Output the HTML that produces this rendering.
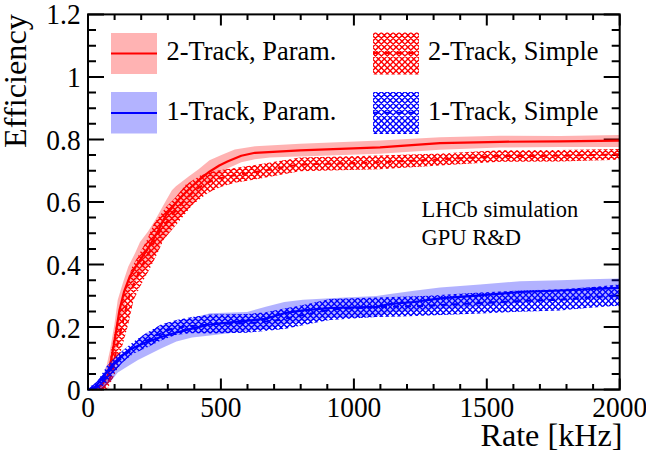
<!DOCTYPE html>
<html><head><meta charset="utf-8"><style>
html,body{margin:0;padding:0;background:#fff;width:646px;height:452px;overflow:hidden}
svg{display:block}
text{font-family:"Liberation Serif",serif;fill:#000}
</style></head><body>
<svg width="646" height="452" viewBox="0 0 646 452">
<path d="M88.0 389.6h16M619.7 389.6h-16M88.0 374.0h8M619.7 374.0h-8M88.0 358.3h8M619.7 358.3h-8M88.0 342.7h8M619.7 342.7h-8M88.0 327.1h16M619.7 327.1h-16M88.0 311.4h8M619.7 311.4h-8M88.0 295.8h8M619.7 295.8h-8M88.0 280.2h8M619.7 280.2h-8M88.0 264.5h16M619.7 264.5h-16M88.0 248.9h8M619.7 248.9h-8M88.0 233.3h8M619.7 233.3h-8M88.0 217.6h8M619.7 217.6h-8M88.0 202.0h16M619.7 202.0h-16M88.0 186.4h8M619.7 186.4h-8M88.0 170.7h8M619.7 170.7h-8M88.0 155.1h8M619.7 155.1h-8M88.0 139.5h16M619.7 139.5h-16M88.0 123.8h8M619.7 123.8h-8M88.0 108.2h8M619.7 108.2h-8M88.0 92.6h8M619.7 92.6h-8M88.0 76.9h16M619.7 76.9h-16M88.0 61.3h8M619.7 61.3h-8M88.0 45.7h8M619.7 45.7h-8M88.0 30.0h8M619.7 30.0h-8M88.0 14.4h16M619.7 14.4h-16M88.0 389.6v-11M88.0 14.4v11M114.6 389.6v-5.5M114.6 14.4v5.5M141.2 389.6v-5.5M141.2 14.4v5.5M167.8 389.6v-5.5M167.8 14.4v5.5M194.3 389.6v-5.5M194.3 14.4v5.5M220.9 389.6v-11M220.9 14.4v11M247.5 389.6v-5.5M247.5 14.4v5.5M274.1 389.6v-5.5M274.1 14.4v5.5M300.7 389.6v-5.5M300.7 14.4v5.5M327.3 389.6v-5.5M327.3 14.4v5.5M353.9 389.6v-11M353.9 14.4v11M380.4 389.6v-5.5M380.4 14.4v5.5M407.0 389.6v-5.5M407.0 14.4v5.5M433.6 389.6v-5.5M433.6 14.4v5.5M460.2 389.6v-5.5M460.2 14.4v5.5M486.8 389.6v-11M486.8 14.4v11M513.4 389.6v-5.5M513.4 14.4v5.5M539.9 389.6v-5.5M539.9 14.4v5.5M566.5 389.6v-5.5M566.5 14.4v5.5M593.1 389.6v-5.5M593.1 14.4v5.5M619.7 389.6v-11M619.7 14.4v11" stroke="#000" stroke-width="2" fill="none"/>
<defs>
<clipPath id="crs"><polygon points="95.0,389.6 104.0,386.0 108.0,375.0 111.3,350.0 116.6,323.2 122.3,300.0 127.0,282.5 132.3,266.6 139.0,254.6 146.9,240.0 154.0,223.5 166.5,206.6 175.0,198.0 185.6,184.8 201.5,174.8 214.8,170.9 228.0,168.9 241.3,166.9 255.0,164.9 300.0,157.6 380.0,155.5 440.0,153.4 500.0,150.3 560.0,150.0 619.0,149.0 619.0,159.7 560.0,161.6 500.0,161.7 440.0,165.5 380.0,169.2 300.0,171.3 255.0,179.5 234.7,182.8 221.4,186.8 208.2,192.7 192.2,205.0 184.0,215.5 168.4,234.0 163.5,240.0 157.5,253.3 149.5,269.2 141.6,283.8 133.6,300.0 128.5,323.2 121.2,350.0 117.1,368.9 112.2,379.5 108.1,387.7 106.0,389.6"/></clipPath>
<clipPath id="cbs"><polygon points="88.0,389.6 87.6,387.0 92.4,385.3 97.1,381.3 101.9,374.1 106.7,366.2 113.1,359.8 122.6,350.5 133.8,341.5 145.5,333.5 161.0,324.5 176.4,320.0 192.0,317.0 210.0,314.5 247.0,314.0 265.7,312.3 284.3,308.6 303.0,304.9 330.0,299.0 376.4,297.4 400.0,296.7 422.9,296.0 480.0,292.5 520.0,290.5 560.0,289.2 590.0,287.2 619.0,284.5 619.0,305.8 590.0,307.7 560.0,310.4 520.0,311.7 480.0,313.5 422.9,315.8 400.0,316.5 376.4,317.0 330.0,320.0 321.5,321.6 303.0,325.3 284.3,329.0 265.7,330.9 247.0,332.7 210.0,333.6 192.0,333.3 176.4,334.8 161.0,340.5 146.0,348.0 133.0,354.0 122.0,363.0 113.0,374.0 106.0,383.0 99.0,389.6"/></clipPath>
<clipPath id="clr"><rect x="373" y="32.5" width="46" height="42"/></clipPath>
<clipPath id="clb"><rect x="373" y="92" width="46" height="42"/></clipPath>
<path id="hl" d="M-313.7 10.0L76.3 400.0M-307.8 10.0L82.2 400.0M-301.9 10.0L88.1 400.0M-296.0 10.0L94.0 400.0M-290.1 10.0L99.9 400.0M-284.2 10.0L105.8 400.0M-278.3 10.0L111.7 400.0M-272.4 10.0L117.6 400.0M-266.5 10.0L123.5 400.0M-260.6 10.0L129.4 400.0M-254.7 10.0L135.3 400.0M-248.8 10.0L141.2 400.0M-242.9 10.0L147.1 400.0M-237.0 10.0L153.0 400.0M-231.1 10.0L158.9 400.0M-225.2 10.0L164.8 400.0M-219.3 10.0L170.7 400.0M-213.4 10.0L176.6 400.0M-207.5 10.0L182.5 400.0M-201.6 10.0L188.4 400.0M-195.7 10.0L194.3 400.0M-189.8 10.0L200.2 400.0M-183.9 10.0L206.1 400.0M-178.0 10.0L212.0 400.0M-172.1 10.0L217.9 400.0M-166.2 10.0L223.8 400.0M-160.3 10.0L229.7 400.0M-154.4 10.0L235.6 400.0M-148.5 10.0L241.5 400.0M-142.6 10.0L247.4 400.0M-136.7 10.0L253.3 400.0M-130.8 10.0L259.2 400.0M-124.9 10.0L265.1 400.0M-119.0 10.0L271.0 400.0M-113.1 10.0L276.9 400.0M-107.2 10.0L282.8 400.0M-101.3 10.0L288.7 400.0M-95.4 10.0L294.6 400.0M-89.5 10.0L300.5 400.0M-83.6 10.0L306.4 400.0M-77.7 10.0L312.3 400.0M-71.8 10.0L318.2 400.0M-65.9 10.0L324.1 400.0M-60.0 10.0L330.0 400.0M-54.1 10.0L335.9 400.0M-48.2 10.0L341.8 400.0M-42.3 10.0L347.7 400.0M-36.4 10.0L353.6 400.0M-30.5 10.0L359.5 400.0M-24.6 10.0L365.4 400.0M-18.7 10.0L371.3 400.0M-12.8 10.0L377.2 400.0M-6.9 10.0L383.1 400.0M-1.0 10.0L389.0 400.0M4.9 10.0L394.9 400.0M10.8 10.0L400.8 400.0M16.7 10.0L406.7 400.0M22.6 10.0L412.6 400.0M28.5 10.0L418.5 400.0M34.4 10.0L424.4 400.0M40.3 10.0L430.3 400.0M46.2 10.0L436.2 400.0M52.1 10.0L442.1 400.0M58.0 10.0L448.0 400.0M63.9 10.0L453.9 400.0M69.8 10.0L459.8 400.0M75.7 10.0L465.7 400.0M81.6 10.0L471.6 400.0M87.5 10.0L477.5 400.0M93.4 10.0L483.4 400.0M99.3 10.0L489.3 400.0M105.2 10.0L495.2 400.0M111.1 10.0L501.1 400.0M117.0 10.0L507.0 400.0M122.9 10.0L512.9 400.0M128.8 10.0L518.8 400.0M134.7 10.0L524.7 400.0M140.6 10.0L530.6 400.0M146.5 10.0L536.5 400.0M152.4 10.0L542.4 400.0M158.3 10.0L548.3 400.0M164.2 10.0L554.2 400.0M170.1 10.0L560.1 400.0M176.0 10.0L566.0 400.0M181.9 10.0L571.9 400.0M187.8 10.0L577.8 400.0M193.7 10.0L583.7 400.0M199.6 10.0L589.6 400.0M205.5 10.0L595.5 400.0M211.4 10.0L601.4 400.0M217.3 10.0L607.3 400.0M223.2 10.0L613.2 400.0M229.1 10.0L619.1 400.0M235.0 10.0L625.0 400.0M240.9 10.0L630.9 400.0M246.8 10.0L636.8 400.0M252.7 10.0L642.7 400.0M258.6 10.0L648.6 400.0M264.5 10.0L654.5 400.0M270.4 10.0L660.4 400.0M276.3 10.0L666.3 400.0M282.2 10.0L672.2 400.0M288.1 10.0L678.1 400.0M294.0 10.0L684.0 400.0M299.9 10.0L689.9 400.0M305.8 10.0L695.8 400.0M311.7 10.0L701.7 400.0M317.6 10.0L707.6 400.0M323.5 10.0L713.5 400.0M329.4 10.0L719.4 400.0M335.3 10.0L725.3 400.0M341.2 10.0L731.2 400.0M347.1 10.0L737.1 400.0M353.0 10.0L743.0 400.0M358.9 10.0L748.9 400.0M364.8 10.0L754.8 400.0M370.7 10.0L760.7 400.0M376.6 10.0L766.6 400.0M382.5 10.0L772.5 400.0M388.4 10.0L778.4 400.0M394.3 10.0L784.3 400.0M400.2 10.0L790.2 400.0M406.1 10.0L796.1 400.0M412.0 10.0L802.0 400.0M417.9 10.0L807.9 400.0M423.8 10.0L813.8 400.0M429.7 10.0L819.7 400.0M435.6 10.0L825.6 400.0M441.5 10.0L831.5 400.0M447.4 10.0L837.4 400.0M453.3 10.0L843.3 400.0M459.2 10.0L849.2 400.0M465.1 10.0L855.1 400.0M471.0 10.0L861.0 400.0M476.9 10.0L866.9 400.0M482.8 10.0L872.8 400.0M488.7 10.0L878.7 400.0M494.6 10.0L884.6 400.0M500.5 10.0L890.5 400.0M506.4 10.0L896.4 400.0M512.3 10.0L902.3 400.0M518.2 10.0L908.2 400.0M524.1 10.0L914.1 400.0M530.0 10.0L920.0 400.0M535.9 10.0L925.9 400.0M541.8 10.0L931.8 400.0M547.7 10.0L937.7 400.0M553.6 10.0L943.6 400.0M559.5 10.0L949.5 400.0M565.4 10.0L955.4 400.0M571.3 10.0L961.3 400.0M577.2 10.0L967.2 400.0M583.1 10.0L973.1 400.0M589.0 10.0L979.0 400.0M594.9 10.0L984.9 400.0M600.8 10.0L990.8 400.0M606.7 10.0L996.7 400.0M612.6 10.0L1002.6 400.0M618.5 10.0L1008.5 400.0M624.4 10.0L1014.4 400.0M630.3 10.0L1020.3 400.0M79.3 10.0L-310.7 400.0M85.2 10.0L-304.8 400.0M91.1 10.0L-298.9 400.0M97.0 10.0L-293.0 400.0M102.9 10.0L-287.1 400.0M108.8 10.0L-281.2 400.0M114.7 10.0L-275.3 400.0M120.6 10.0L-269.4 400.0M126.5 10.0L-263.5 400.0M132.4 10.0L-257.6 400.0M138.3 10.0L-251.7 400.0M144.2 10.0L-245.8 400.0M150.1 10.0L-239.9 400.0M156.0 10.0L-234.0 400.0M161.9 10.0L-228.1 400.0M167.8 10.0L-222.2 400.0M173.7 10.0L-216.3 400.0M179.6 10.0L-210.4 400.0M185.5 10.0L-204.5 400.0M191.4 10.0L-198.6 400.0M197.3 10.0L-192.7 400.0M203.2 10.0L-186.8 400.0M209.1 10.0L-180.9 400.0M215.0 10.0L-175.0 400.0M220.9 10.0L-169.1 400.0M226.8 10.0L-163.2 400.0M232.7 10.0L-157.3 400.0M238.6 10.0L-151.4 400.0M244.5 10.0L-145.5 400.0M250.4 10.0L-139.6 400.0M256.3 10.0L-133.7 400.0M262.2 10.0L-127.8 400.0M268.1 10.0L-121.9 400.0M274.0 10.0L-116.0 400.0M279.9 10.0L-110.1 400.0M285.8 10.0L-104.2 400.0M291.7 10.0L-98.3 400.0M297.6 10.0L-92.4 400.0M303.5 10.0L-86.5 400.0M309.4 10.0L-80.6 400.0M315.3 10.0L-74.7 400.0M321.2 10.0L-68.8 400.0M327.1 10.0L-62.9 400.0M333.0 10.0L-57.0 400.0M338.9 10.0L-51.1 400.0M344.8 10.0L-45.2 400.0M350.7 10.0L-39.3 400.0M356.6 10.0L-33.4 400.0M362.5 10.0L-27.5 400.0M368.4 10.0L-21.6 400.0M374.3 10.0L-15.7 400.0M380.2 10.0L-9.8 400.0M386.1 10.0L-3.9 400.0M392.0 10.0L2.0 400.0M397.9 10.0L7.9 400.0M403.8 10.0L13.8 400.0M409.7 10.0L19.7 400.0M415.6 10.0L25.6 400.0M421.5 10.0L31.5 400.0M427.4 10.0L37.4 400.0M433.3 10.0L43.3 400.0M439.2 10.0L49.2 400.0M445.1 10.0L55.1 400.0M451.0 10.0L61.0 400.0M456.9 10.0L66.9 400.0M462.8 10.0L72.8 400.0M468.7 10.0L78.7 400.0M474.6 10.0L84.6 400.0M480.5 10.0L90.5 400.0M486.4 10.0L96.4 400.0M492.3 10.0L102.3 400.0M498.2 10.0L108.2 400.0M504.1 10.0L114.1 400.0M510.0 10.0L120.0 400.0M515.9 10.0L125.9 400.0M521.8 10.0L131.8 400.0M527.7 10.0L137.7 400.0M533.6 10.0L143.6 400.0M539.5 10.0L149.5 400.0M545.4 10.0L155.4 400.0M551.3 10.0L161.3 400.0M557.2 10.0L167.2 400.0M563.1 10.0L173.1 400.0M569.0 10.0L179.0 400.0M574.9 10.0L184.9 400.0M580.8 10.0L190.8 400.0M586.7 10.0L196.7 400.0M592.6 10.0L202.6 400.0M598.5 10.0L208.5 400.0M604.4 10.0L214.4 400.0M610.3 10.0L220.3 400.0M616.2 10.0L226.2 400.0M622.1 10.0L232.1 400.0M628.0 10.0L238.0 400.0M633.9 10.0L243.9 400.0M639.8 10.0L249.8 400.0M645.7 10.0L255.7 400.0M651.6 10.0L261.6 400.0M657.5 10.0L267.5 400.0M663.4 10.0L273.4 400.0M669.3 10.0L279.3 400.0M675.2 10.0L285.2 400.0M681.1 10.0L291.1 400.0M687.0 10.0L297.0 400.0M692.9 10.0L302.9 400.0M698.8 10.0L308.8 400.0M704.7 10.0L314.7 400.0M710.6 10.0L320.6 400.0M716.5 10.0L326.5 400.0M722.4 10.0L332.4 400.0M728.3 10.0L338.3 400.0M734.2 10.0L344.2 400.0M740.1 10.0L350.1 400.0M746.0 10.0L356.0 400.0M751.9 10.0L361.9 400.0M757.8 10.0L367.8 400.0M763.7 10.0L373.7 400.0M769.6 10.0L379.6 400.0M775.5 10.0L385.5 400.0M781.4 10.0L391.4 400.0M787.3 10.0L397.3 400.0M793.2 10.0L403.2 400.0M799.1 10.0L409.1 400.0M805.0 10.0L415.0 400.0M810.9 10.0L420.9 400.0M816.8 10.0L426.8 400.0M822.7 10.0L432.7 400.0M828.6 10.0L438.6 400.0M834.5 10.0L444.5 400.0M840.4 10.0L450.4 400.0M846.3 10.0L456.3 400.0M852.2 10.0L462.2 400.0M858.1 10.0L468.1 400.0M864.0 10.0L474.0 400.0M869.9 10.0L479.9 400.0M875.8 10.0L485.8 400.0M881.7 10.0L491.7 400.0M887.6 10.0L497.6 400.0M893.5 10.0L503.5 400.0M899.4 10.0L509.4 400.0M905.3 10.0L515.3 400.0M911.2 10.0L521.2 400.0M917.1 10.0L527.1 400.0M923.0 10.0L533.0 400.0M928.9 10.0L538.9 400.0M934.8 10.0L544.8 400.0M940.7 10.0L550.7 400.0M946.6 10.0L556.6 400.0M952.5 10.0L562.5 400.0M958.4 10.0L568.4 400.0M964.3 10.0L574.3 400.0M970.2 10.0L580.2 400.0M976.1 10.0L586.1 400.0M982.0 10.0L592.0 400.0M987.9 10.0L597.9 400.0M993.8 10.0L603.8 400.0M999.7 10.0L609.7 400.0M1005.6 10.0L615.6 400.0M1011.5 10.0L621.5 400.0M1017.4 10.0L627.4 400.0M1023.3 10.0L633.3 400.0"/>
</defs>
<polygon points="89.0,389.6 96.0,387.0 101.0,381.0 104.0,375.0 106.5,366.0 110.0,350.0 114.6,323.2 117.7,300.0 123.0,282.5 128.3,266.6 135.0,253.3 140.0,242.0 148.0,231.5 154.6,220.9 159.9,211.6 166.6,199.6 171.9,190.3 175.9,186.3 188.3,176.8 198.9,168.9 209.5,160.3 221.4,155.0 234.7,149.6 255.0,146.3 300.0,143.7 380.0,140.5 440.0,137.3 500.0,135.8 560.0,135.9 619.0,135.1 619.0,147.0 560.0,147.0 500.0,147.5 440.0,149.7 380.0,153.7 300.0,156.4 290.0,156.7 270.0,157.6 255.0,159.2 241.3,162.3 228.0,168.2 215.0,178.0 205.0,188.0 190.0,205.0 176.0,222.0 163.0,240.0 153.0,258.0 143.0,272.0 133.0,285.0 126.0,300.0 121.0,320.0 117.0,345.0 113.0,370.0 108.0,384.0 100.0,389.6" fill="#f00" fill-opacity="0.3"/>
<polyline points="92.0,389.6 102.0,385.0 108.0,375.0 111.5,358.0 115.5,335.0 119.5,310.0 124.0,292.0 130.0,276.0 138.0,263.0 147.0,250.0 157.0,233.0 166.0,215.0 180.0,198.0 191.0,187.2 199.5,179.7 209.4,171.7 219.3,165.5 228.0,161.3 241.3,155.8 255.0,152.8 300.0,150.4 380.0,147.4 440.0,143.2 500.0,141.8 560.0,141.3 619.0,140.6" fill="none" stroke="#f00" stroke-width="2.2" stroke-linejoin="round"/>
<g clip-path="url(#crs)"><use href="#hl" stroke="#f00" stroke-width="1.4" fill="none"/></g>
<polyline points="100.5,389.6 103.2,387.9 105.5,385.8 107.6,383.6 108.9,380.6 110.2,377.5 111.4,374.5 112.5,371.4 113.1,368.2 113.7,365.0 114.3,361.7 114.8,358.5 115.4,355.2 115.9,352.0 116.6,348.8 117.3,345.6 118.1,342.4 118.8,339.2 119.6,336.0 120.3,332.8 121.1,329.6 121.8,326.4 122.6,323.1 123.3,319.9 124.1,316.7 124.8,313.5 125.5,310.3 126.3,307.1 127.0,303.9 127.8,300.7 128.8,297.6 130.0,294.5 131.1,291.5 132.3,288.4 133.4,285.3 134.6,282.3 135.9,279.3 137.2,276.3 138.5,273.2 139.8,270.2 141.2,267.3 142.8,264.4 144.3,261.5 145.9,258.6 147.4,255.7 148.9,252.7 150.4,249.8 151.9,246.9 153.4,243.9 154.8,240.9 156.1,237.9 157.7,235.1 159.4,232.3 161.1,229.5 162.8,226.8 164.9,224.2 166.9,221.6 169.0,219.0 171.0,216.4 173.0,213.9 175.1,211.3 177.2,208.8 179.4,206.3 181.6,203.9 183.7,201.4 186.0,199.0 188.3,196.7 190.6,194.4 193.0,192.1 195.4,190.0 198.1,188.1 200.9,186.4 203.8,184.8 206.7,183.3 209.6,181.7 212.6,180.5 215.8,179.5 218.9,178.6 222.1,177.7 225.3,176.8 228.5,176.3 231.7,175.8 235.0,175.3 238.2,174.7 241.5,174.2 244.7,173.7 248.0,173.2 251.2,172.7 254.5,172.1 257.7,171.6 261.0,171.1 264.2,170.5 267.5,170.0 270.7,169.4 274.0,168.9 277.2,168.3 280.5,167.7 283.7,167.2 286.9,166.6 290.2,166.1 293.4,165.5 296.7,165.2 300.0,164.9 303.2,164.6 306.5,164.3 309.8,164.2 313.1,164.1 316.4,164.0 319.7,163.9 323.0,163.8 326.3,163.8 329.5,163.7 332.8,163.6 336.1,163.5 339.4,163.4 342.7,163.3 346.0,163.2 349.3,163.2 352.6,163.1 355.9,163.0 359.2,162.9 362.5,162.8 365.7,162.7 369.0,162.6 372.3,162.6 375.6,162.4 378.9,162.3 382.2,162.2 385.5,162.0 388.8,161.9 392.1,161.7 395.3,161.5 398.6,161.4 401.9,161.2 405.2,161.1 408.5,160.9 411.8,160.8 415.1,160.6 418.4,160.4 421.6,160.3 424.9,160.1 428.2,160.0 431.5,159.8 434.8,159.6 438.1,159.5 441.4,159.3 444.7,159.2 447.9,159.0 451.2,158.8 454.5,158.6 457.8,158.4 461.1,158.2 464.4,158.0 467.7,157.8 470.9,157.7 474.2,157.5 477.5,157.3 480.8,157.1 484.1,156.9 487.4,156.7 490.7,156.5 493.9,156.3 497.2,156.1 500.5,156.0 503.8,156.0 507.1,156.0 510.4,156.0 513.7,156.0 517.0,155.9 520.3,155.9 523.6,155.9 526.9,155.9 530.1,155.9 533.4,155.9 536.7,155.9 540.0,155.9 543.3,155.9 546.6,155.8 549.9,155.8 553.2,155.8 556.5,155.8 559.8,155.8 563.1,155.7 566.4,155.6 569.6,155.6 572.9,155.5 576.2,155.4 579.5,155.3 582.8,155.2 586.1,155.2 589.4,155.1 592.7,155.0 596.0,154.9 599.3,154.8 602.5,154.8 605.8,154.7 609.1,154.6 612.4,154.5 615.7,154.4 619.0,154.3" fill="none" stroke="#f00" stroke-width="2.1" stroke-dasharray="6 6"/>
<polygon points="88.0,389.6 93.0,386.3 98.0,381.3 102.9,374.1 107.7,366.7 114.0,360.8 123.0,353.0 134.0,343.5 145.5,334.0 161.0,325.5 176.4,321.0 192.0,318.0 210.0,313.2 247.0,312.0 265.7,306.7 284.3,302.0 303.0,299.7 330.0,298.2 376.4,296.0 390.0,294.0 414.0,290.8 440.0,287.6 480.0,284.5 520.0,281.2 560.0,280.2 590.0,279.2 619.0,278.6 619.0,299.0 560.0,300.5 520.0,303.0 480.0,306.5 440.0,309.0 390.0,312.5 376.4,316.5 330.0,318.0 303.0,321.0 284.3,324.5 265.7,329.0 247.0,331.0 210.0,335.5 192.0,337.5 176.4,341.5 161.0,348.5 146.0,356.0 138.0,360.0 127.4,366.5 117.8,372.5 111.5,380.5 101.9,389.6" fill="#00f" fill-opacity="0.3"/>
<polyline points="88.0,389.6 95.0,387.0 100.0,381.0 106.0,373.0 113.0,364.0 120.0,357.0 130.0,349.5 145.5,342.6 161.0,337.0 176.4,332.5 192.0,328.6 210.0,324.5 237.9,321.6 265.7,318.8 284.3,313.2 303.0,310.4 330.0,308.0 376.4,306.8 390.0,304.0 414.0,302.0 440.0,298.3 480.0,295.3 520.0,292.0 560.0,290.5 619.0,287.9" fill="none" stroke="#00f" stroke-width="2.2" stroke-linejoin="round"/>
<g clip-path="url(#cbs)"><use href="#hl" stroke="#00f" stroke-width="1.4" fill="none"/></g>
<polyline points="93.5,389.6 94.4,387.3 96.7,385.9 99.0,384.4 100.9,382.5 102.8,380.5 104.4,378.2 106.1,376.0 107.7,373.8 109.3,371.5 110.9,369.2 112.5,367.0 114.3,364.9 116.1,362.8 118.2,361.0 120.2,359.1 122.3,357.3 124.4,355.4 126.4,353.6 128.6,352.0 130.9,350.5 133.3,349.0 135.6,347.6 137.9,346.1 140.3,344.7 142.6,343.2 145.0,341.8 147.4,340.4 149.8,339.0 152.2,337.6 154.6,336.3 157.1,335.1 159.6,334.0 162.1,332.8 164.6,331.6 167.1,330.4 169.6,329.5 172.3,328.9 175.1,328.4 177.8,327.9 180.5,327.4 183.2,326.8 185.9,326.5 188.7,326.2 191.4,326.0 194.1,325.8 196.9,325.5 199.6,325.3 202.4,325.1 205.1,324.9 207.9,324.6 210.7,324.4 213.4,324.2 216.2,324.0 218.9,323.8 221.7,323.8 224.5,323.7 227.2,323.7 230.0,323.6 232.8,323.6 235.6,323.5 238.3,323.5 241.1,323.4 243.9,323.2 246.6,323.1 249.4,322.9 252.2,322.8 254.9,322.6 257.7,322.3 260.4,322.1 263.2,321.8 265.9,321.5 268.7,321.3 271.5,321.0 274.2,320.6 276.9,320.2 279.7,319.7 282.4,319.2 285.1,318.6 287.8,318.1 290.5,317.6 293.3,317.0 296.0,316.5 298.7,316.0 301.4,315.4 304.1,314.9 306.8,314.3 309.6,313.8 312.3,313.2 315.0,312.6 317.7,312.1 320.4,311.5 323.1,311.0 325.8,310.5 328.6,310.1 331.3,309.7 334.1,309.3 336.8,309.1 339.6,308.9 342.3,308.8 345.1,308.7 347.9,308.5 350.6,308.4 353.4,308.3 356.2,308.1 358.9,308.0 361.7,307.9 364.5,307.7 367.2,307.6 370.0,307.4 372.8,307.3 375.5,307.3 378.3,307.2 381.1,307.1 383.9,307.0 386.6,307.0 389.4,306.9 392.2,306.8 394.9,306.7 397.7,306.7 400.5,306.6 403.2,306.5 406.0,306.4 408.8,306.3 411.5,306.2 414.3,306.2 417.1,306.1 419.9,306.0 422.6,305.9 425.4,305.8 428.2,305.7 430.9,305.5 433.7,305.4 436.5,305.2 439.2,305.1 442.0,305.0 444.8,304.8 447.5,304.7 450.3,304.5 453.1,304.4 455.8,304.3 458.6,304.1 461.4,304.0 464.1,303.8 466.9,303.7 469.7,303.6 472.4,303.4 475.2,303.3 478.0,303.1 480.7,303.0 483.5,302.8 486.3,302.7 489.0,302.6 491.8,302.4 494.6,302.3 497.3,302.2 500.1,302.1 502.9,301.9 505.6,301.8 508.4,301.7 511.2,301.5 513.9,301.4 516.7,301.3 519.5,301.1 522.2,301.0 525.0,300.9 527.8,300.8 530.5,300.8 533.3,300.7 536.1,300.6 538.9,300.5 541.6,300.4 544.4,300.3 547.2,300.2 549.9,300.1 552.7,300.0 555.5,299.9 558.2,299.9 561.0,299.7 563.8,299.5 566.5,299.3 569.3,299.1 572.0,298.8 574.8,298.6 577.6,298.4 580.3,298.2 583.1,298.0 585.9,297.8 588.6,297.6 591.4,297.3 594.1,297.1 596.9,296.9 599.7,296.7 602.4,296.5 605.2,296.2 608.0,296.0 610.7,295.8 613.5,295.6 616.2,295.4 619.0,295.1" fill="none" stroke="#00f" stroke-width="2.1" stroke-dasharray="6 6"/>
<rect x="111" y="33" width="46" height="41" fill="#ffb3b3"/>
<path d="M111 53.5h46" stroke="#f00" stroke-width="2.2"/>
<rect x="111" y="92" width="46" height="41.5" fill="#b3b3ff"/>
<path d="M111 113h46" stroke="#00f" stroke-width="2.2"/>
<g clip-path="url(#clr)"><use href="#hl" stroke="#f00" stroke-width="1.4" fill="none"/></g>
<path d="M373 53h46" stroke="#f00" stroke-width="2.1" stroke-dasharray="6 6"/>
<g clip-path="url(#clb)"><use href="#hl" stroke="#00f" stroke-width="1.4" fill="none"/></g>
<path d="M373 112.8h46" stroke="#00f" stroke-width="2.1" stroke-dasharray="6 6"/>
<g font-size="26.4">
<text x="166.5" y="59.9">2-Track, Param.</text>
<text x="166.5" y="119.8">1-Track, Param.</text>
<text x="428" y="59.9">2-Track, Simple</text>
<text x="428" y="119.8">1-Track, Simple</text>
</g>
<g font-size="22.5">
<text x="421.5" y="217.3">LHCb simulation</text>
<text x="421.5" y="244.6">GPU R&amp;D</text>
</g>
<rect x="88.0" y="14.4" width="531.7" height="375.2" fill="none" stroke="#000" stroke-width="2"/>
<g font-size="29.5">
<text transform="translate(80.6 400.0) scale(0.93 1)" text-anchor="end">0</text>
<text transform="translate(80.6 337.5) scale(0.93 1)" text-anchor="end">0.2</text>
<text transform="translate(80.6 274.9) scale(0.93 1)" text-anchor="end">0.4</text>
<text transform="translate(80.6 212.4) scale(0.93 1)" text-anchor="end">0.6</text>
<text transform="translate(80.6 149.9) scale(0.93 1)" text-anchor="end">0.8</text>
<text transform="translate(80.6 87.3) scale(0.93 1)" text-anchor="end">1</text>
<text transform="translate(80.6 23.8) scale(0.93 1)" text-anchor="end">1.2</text>
<text transform="translate(88.0 416.5) scale(0.93 1)" text-anchor="middle">0</text>
<text transform="translate(220.9 416.5) scale(0.93 1)" text-anchor="middle">500</text>
<text transform="translate(353.9 416.5) scale(0.93 1)" text-anchor="middle">1000</text>
<text transform="translate(486.8 416.5) scale(0.93 1)" text-anchor="middle">1500</text>
<text transform="translate(619.7 416.5) scale(0.93 1)" text-anchor="middle">2000</text>
</g>
<text x="622.5" y="446.3" font-size="32.2" text-anchor="end">Rate [kHz]</text>
<text transform="translate(26 148) rotate(-90)" font-size="32.3">Efficiency</text>
</svg>
</body></html>
